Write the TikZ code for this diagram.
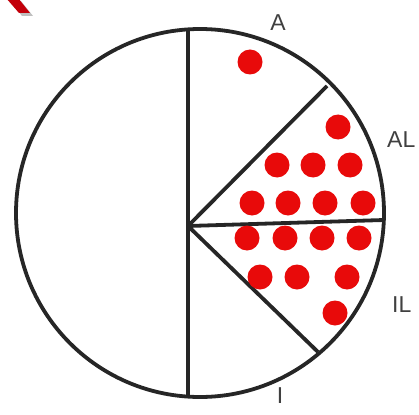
\documentclass[tikz,border=0pt]{standalone}
\usepackage{fontspec}
\setmainfont{Liberation Sans}
\usepackage{xcolor}
\usepackage{tikz}
\usetikzlibrary{positioning, calc}

\definecolor{dotred}{RGB}{232,10,10}
\definecolor{markred}{RGB}{195,0,10}

\begin{document}
\begin{tikzpicture}[
    x=1pt, y=-1pt,
    line/.style={draw=black!85, line width=3.8pt},
    dot/.style={circle, fill=dotred, inner sep=0pt, minimum size=25pt},
    lbl/.style={text=black!75, font=\fontsize{23}{25}\selectfont, inner sep=0pt}
  ]
  \useasboundingbox (0,0) rectangle (419,414);
  \clip (0,0) rectangle (419,414);

  % red mark in the corner
  \fill[black!25] (10,1) -- (21,1) -- (33,16) -- (22,16) -- cycle;
  \fill[markred] (6,-2) -- (18,-2) -- (30,13) -- (19,13) -- cycle;

  % circle and sectors
  \coordinate (C) at (200,213);
  \coordinate (O) at (188,226);
  \coordinate (top) at (188,29);
  \coordinate (bot) at (188,398);
  \coordinate (ur) at (327,86);
  \coordinate (mr) at (384,220);
  \coordinate (lr) at (318,352);

  \draw[line] (C) circle[radius=184];
  \draw[line] (top) -- (bot);
  \draw[line] (O) -- (ur);
  \draw[line] (O) -- (mr);
  \draw[line] (O) -- (lr);

  % dots
  \node[dot] (d0) at (250,62) {};
  \node[dot] (d1) at (338,127) {};
  \foreach \x [count=\i] in {277,313,350}
    \node[dot] (r2\i) at (\x,165) {};
  \foreach \x [count=\i] in {252,288,325,363}
    \node[dot] (r3\i) at (\x,203) {};
  \foreach \x [count=\i] in {247,285,322,359}
    \node[dot] (r4\i) at (\x,238) {};
  \foreach \x [count=\i] in {260,297,347}
    \node[dot] (r5\i) at (\x,277) {};
  \node[dot] (d2) at (335,313) {};

  % labels
  \node[lbl] (lA) at (278,23) {A};
  \node[lbl, anchor=west] (lAL) at (387,140) {AL};
  \node[lbl, anchor=west] (lIL) at (392,305) {IL};
  \node[lbl] (lI) at (280,396) {I};
\end{tikzpicture}
\end{document}
